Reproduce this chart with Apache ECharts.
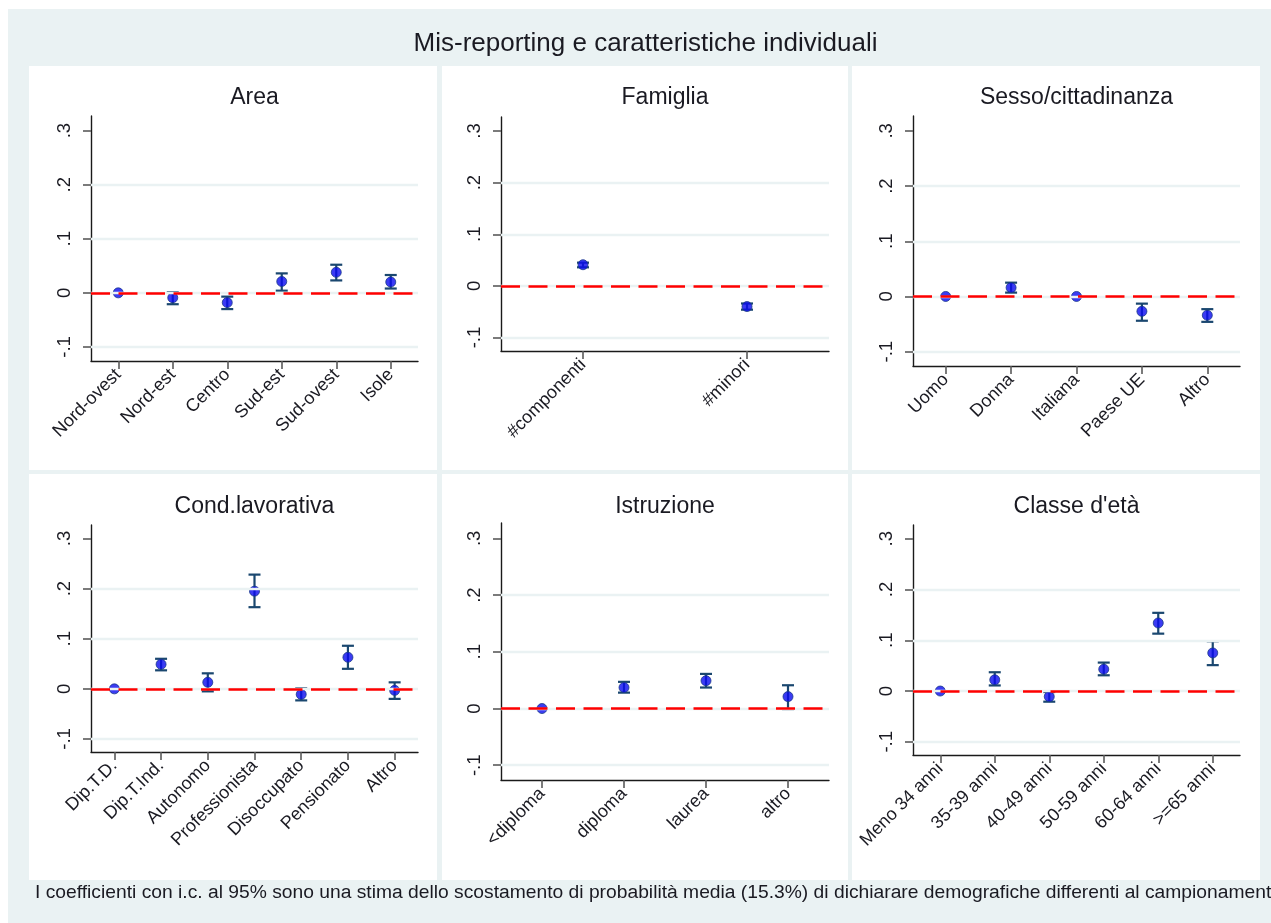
<!DOCTYPE html>
<html>
<head>
<meta charset="utf-8">
<title>Mis-reporting e caratteristiche individuali</title>
<script src="https://cdn.jsdelivr.net/npm/echarts@6/dist/echarts.min.js"></script>
<style>
  html, body { margin: 0; padding: 0; background: #ffffff; }
  #chart { width: 1271px; height: 923px; }
</style>
</head>
<body>
<div id="chart"></div>
<script>
// ---- y axis ticks (shared by all panels) ----
const yTicks = [-0.1, 0, 0.1, 0.2, 0.3];
const yTickLabels = ['-.1', '0', '.1', '.2', '.3'];
const gridLineValues = [-0.1, 0, 0.1, 0.2];
const yMin = -0.126;
const yMax = 0.327;

// ---- Area ----
const areaCats = ['Nord-ovest', 'Nord-est', 'Centro', 'Sud-est', 'Sud-ovest', 'Isole'];
const areaCoef = [0, -0.009, -0.018, 0.021, 0.038, 0.020];
const areaLow  = [null, -0.021, -0.030, 0.004, 0.023, 0.008];
const areaHigh = [null, 0.001, -0.007, 0.036, 0.052, 0.033];

// ---- Famiglia ----
const famCats = ['#componenti', '#minori'];
const famCoef = [0.041, -0.040];
const famLow  = [0.036, -0.046];
const famHigh = [0.045, -0.034];

// ---- Sesso/cittadinanza ----
const sexCats = ['Uomo', 'Donna', 'Italiana', 'Paese UE', 'Altro'];
const sexCoef = [0, 0.016, 0, -0.027, -0.034];
const sexLow  = [null, 0.007, null, -0.044, -0.046];
const sexHigh = [null, 0.025, null, -0.013, -0.023];

// ---- Cond.lavorativa ----
const jobCats = ['Dip.T.D.', 'Dip.T.Ind.', 'Autonomo', 'Professionista', 'Disoccupato', 'Pensionato', 'Altro'];
const jobCoef = [0, 0.049, 0.013, 0.195, -0.011, 0.063, -0.003];
const jobLow  = [null, 0.037, -0.005, 0.163, -0.023, 0.040, -0.020];
const jobHigh = [null, 0.060, 0.031, 0.228, 0.001, 0.086, 0.013];

// ---- Istruzione ----
const eduCats = ['<diploma', 'diploma', 'laurea', 'altro'];
const eduCoef = [0, 0.037, 0.049, 0.021];
const eduLow  = [null, 0.028, 0.037, -0.001];
const eduHigh = [null, 0.047, 0.061, 0.041];

// ---- Classe d'età ----
const ageCats = ['Meno 34 anni', '35-39 anni', '40-49 anni', '50-59 anni', '60-64 anni', '>=65 anni'];
const ageCoef = [0, 0.022, -0.011, 0.043, 0.134, 0.075];
const ageLow  = [null, 0.011, -0.021, 0.031, 0.113, 0.051];
const ageHigh = [null, 0.037, -0.002, 0.056, 0.154, 0.098];

const mainTitle = 'Mis-reporting e caratteristiche individuali';
const footNote = 'I coefficienti con i.c. al 95% sono una stima dello scostamento di probabilità media (15.3%) di dichiarare demografiche differenti al campionamento';

const panels = [
  { title: 'Area',                cats: areaCats, coef: areaCoef, low: areaLow, high: areaHigh },
  { title: 'Famiglia',            cats: famCats,  coef: famCoef,  low: famLow,  high: famHigh },
  { title: 'Sesso/cittadinanza',  cats: sexCats,  coef: sexCoef,  low: sexLow,  high: sexHigh },
  { title: 'Cond.lavorativa',     cats: jobCats,  coef: jobCoef,  low: jobLow,  high: jobHigh },
  { title: 'Istruzione',          cats: eduCats,  coef: eduCoef,  low: eduLow,  high: eduHigh },
  { title: "Classe d'età",        cats: ageCats,  coef: ageCoef,  low: ageLow,  high: ageHigh }
];

// ---- layout (pixels) ----
const boxes = [
  { x: 29,  y: 66,  w: 408, h: 404 },
  { x: 442, y: 66,  w: 406, h: 404 },
  { x: 852, y: 66,  w: 408, h: 404 },
  { x: 29,  y: 474, w: 408, h: 406 },
  { x: 442, y: 474, w: 406, h: 406 },
  { x: 852, y: 474, w: 408, h: 406 }
];
const plots = [
  { left: 91,  top: 116, width: 327, height: 245 },
  { left: 501, top: 117, width: 328, height: 234 },
  { left: 913, top: 116, width: 327, height: 250 },
  { left: 91,  top: 525, width: 327, height: 227 },
  { left: 501, top: 523, width: 328, height: 257 },
  { left: 913, top: 525, width: 327, height: 230 }
];
const titleY = [98, 98, 98, 507, 507, 507];

const FONT = '"Liberation Sans", Arial, Helvetica, sans-serif';
const BG = '#EAF2F3';
const NAVY = '#1A476F';
const TEXT = '#1a1a22';

const chart = echarts.init(document.getElementById('chart'), null, { renderer: 'canvas' });

const grids = [], xAxes = [], yAxes = [], series = [], graphics = [];

graphics.push({
  type: 'rect', z: -10, silent: true,
  shape: { x: 8, y: 9, width: 1263, height: 914 },
  style: { fill: BG }
});
graphics.push({
  type: 'text', z: 10, silent: true, x: 645.5, y: 44,
  style: { text: mainTitle, fontFamily: FONT, fontSize: 26, fill: TEXT, align: 'center', verticalAlign: 'middle' }
});
graphics.push({
  type: 'text', z: 10, silent: true, x: 35, y: 893,
  style: { text: footNote, fontFamily: FONT, fontSize: 19.25, fill: TEXT, align: 'left', verticalAlign: 'middle' }
});

panels.forEach((p, i) => {
  const b = boxes[i], g = plots[i];
  graphics.push({
    type: 'rect', z: -9, silent: true,
    shape: { x: b.x, y: b.y, width: b.w, height: b.h },
    style: { fill: '#ffffff' }
  });
  graphics.push({
    type: 'text', z: 10, silent: true, x: g.left + g.width / 2, y: titleY[i],
    style: { text: p.title, fontFamily: FONT, fontSize: 23, fill: TEXT, align: 'center', verticalAlign: 'middle' }
  });

  grids.push({ left: g.left, top: g.top, width: g.width, height: g.height, containLabel: false });

  xAxes.push({
    type: 'category', gridIndex: i, data: p.cats, boundaryGap: true,
    axisLine: { show: true, onZero: false, lineStyle: { color: '#1a1a1a', width: 1.4 } },
    axisTick: { show: true, alignWithLabel: true, length: 8, lineStyle: { color: '#5a5a5a', width: 1.6 } },
    axisLabel: { interval: 0, rotate: 45, margin: 11, fontFamily: FONT, fontSize: 18, color: TEXT },
    splitLine: { show: false }
  });

  yAxes.push({
    type: 'value', gridIndex: i, min: yMin, max: yMax,
    axisLine: { show: true, onZero: false, lineStyle: { color: '#1a1a1a', width: 1.4 } },
    axisTick: { show: true, length: 8, customValues: yTicks, lineStyle: { color: '#5a5a5a', width: 1.6 } },
    axisLabel: {
      customValues: yTicks, rotate: 90, margin: 17, fontFamily: FONT, fontSize: 18.5, color: TEXT,
      formatter: (v) => {
        const k = yTicks.findIndex(t => Math.abs(t - v) < 1e-9);
        return k >= 0 ? yTickLabels[k] : '';
      }
    },
    splitLine: { show: false }
  });

  // light horizontal grid lines
  series.push({
    type: 'line', xAxisIndex: i, yAxisIndex: i, z: 1, silent: true,
    data: p.cats.map(() => null), showSymbol: false,
    lineStyle: { opacity: 0 },
    markLine: {
      silent: true, symbol: ['none', 'none'], animation: false,
      label: { show: false },
      lineStyle: { color: BG, width: 2.4, type: 'solid' },
      emphasis: { disabled: true },
      data: gridLineValues.map(v => ({ yAxis: v }))
    }
  });

  // red dashed reference line at zero
  series.push({
    type: 'line', xAxisIndex: i, yAxisIndex: i, z: 2, silent: true,
    data: p.cats.map(() => null), showSymbol: false,
    lineStyle: { opacity: 0 },
    markLine: {
      silent: true, symbol: ['none', 'none'], animation: false,
      label: { show: false },
      lineStyle: { color: '#FF0000', width: 2.6, type: [19, 8.5] },
      emphasis: { disabled: true },
      data: [{ yAxis: 0 }]
    }
  });

  // 95% confidence intervals
  const ciData = [];
  p.cats.forEach((c, k) => {
    if (p.low[k] !== null && p.high[k] !== null) ciData.push([k, p.low[k], p.high[k]]);
  });
  series.push({
    type: 'custom', xAxisIndex: i, yAxisIndex: i, z: 3, silent: true,
    encode: { x: 0, y: [1, 2] },
    data: ciData,
    renderItem: (params, api) => {
      const k = api.value(0);
      const lo = api.coord([k, api.value(1)]);
      const hi = api.coord([k, api.value(2)]);
      const cw = 6;
      const st = { stroke: NAVY, lineWidth: 2.2, fill: null };
      return {
        type: 'group',
        children: [
          { type: 'line', shape: { x1: lo[0], y1: lo[1], x2: hi[0], y2: hi[1] }, style: st },
          { type: 'line', shape: { x1: lo[0] - cw, y1: lo[1], x2: lo[0] + cw, y2: lo[1] }, style: st },
          { type: 'line', shape: { x1: hi[0] - cw, y1: hi[1], x2: hi[0] + cw, y2: hi[1] }, style: st }
        ]
      };
    }
  });

  // point estimates
  series.push({
    type: 'scatter', xAxisIndex: i, yAxisIndex: i, z: 4, silent: true,
    symbol: 'circle', symbolSize: 10,
    itemStyle: { color: '#0A0AF0', borderColor: '#1A3A8A', borderWidth: 1 },
    data: p.coef
  });
});

chart.setOption({
  animation: false,
  backgroundColor: '#ffffff',
  graphic: { elements: graphics },
  grid: grids,
  xAxis: xAxes,
  yAxis: yAxes,
  series: series
});
</script>
</body>
</html>
